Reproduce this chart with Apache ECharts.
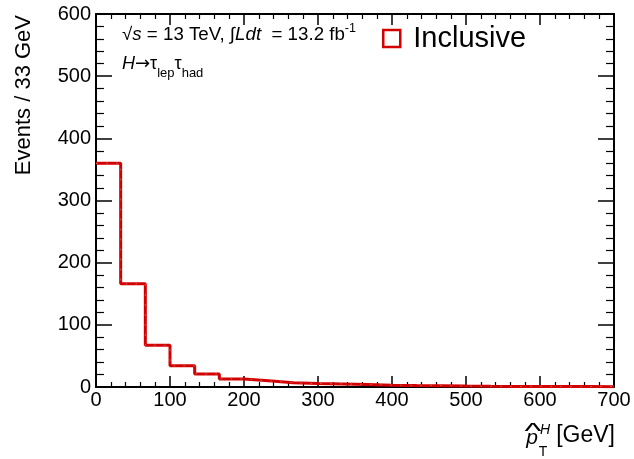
<!DOCTYPE html>
<html><head><meta charset="utf-8">
<script src="https://cdn.jsdelivr.net/npm/echarts@6/dist/echarts.min.js"></script>
<style>html,body{margin:0;padding:0;background:#fff}#c{width:634px;height:459px}</style>
</head><body><div id="c"></div>
<script>
// ---- data ----
const binLow = 0;
const binHigh = 700;
const counts = [360, 166, 67, 34, 21, 13, 10, 7, 5.5, 5, 4, 3, 2.5, 2.2, 1.5, 1.2, 1, 1, 0.8, 0.7, 0.6];
const xTickValues = [0, 100, 200, 300, 400, 500, 600, 700];
const yTickValues = [0, 100, 200, 300, 400, 500, 600];
const seriesName = 'Inclusive';

const nBins = counts.length;
const bw = (binHigh - binLow) / nBins;
const stepData = counts.map((v, i) => [binLow + i * bw, v]);
stepData.push([binHigh, counts[nBins - 1]]);

const FF = '"Liberation Sans", Arial, Helvetica, sans-serif';
const RED = '#d40000';

function xAx(pos, showLabel) {
  return {
    type: 'value', position: pos, min: xTickValues[0], max: xTickValues[xTickValues.length - 1],
    interval: xTickValues[1] - xTickValues[0],
    axisLine: { show: true, onZero: false, lineStyle: { color: '#000', width: 2 } },
    axisTick: { show: true, inside: true, length: 11, lineStyle: { color: '#000', width: 1.5 } },
    minorTick: { show: true, splitNumber: 5, length: 5, lineStyle: { color: '#000', width: 1.2 } },
    splitLine: { show: false },
    axisLabel: { show: showLabel, fontSize: 20, fontFamily: FF, color: '#000', margin: 3 }
  };
}
function yAx(pos, showLabel) {
  return {
    type: 'value', position: pos, min: yTickValues[0], max: yTickValues[yTickValues.length - 1],
    interval: yTickValues[1] - yTickValues[0],
    axisLine: { show: true, onZero: false, lineStyle: { color: '#000', width: 2 } },
    axisTick: { show: true, inside: true, length: 16, lineStyle: { color: '#000', width: 1.5 } },
    minorTick: { show: true, splitNumber: 5, length: 8, lineStyle: { color: '#000', width: 1.2 } },
    splitLine: { show: false },
    axisLabel: { show: showLabel, fontSize: 20, fontFamily: FF, color: '#000', margin: 5 }
  };
}

const chart = echarts.init(document.getElementById('c'), null, { renderer: 'canvas' });
chart.setOption({
  animation: false,
  backgroundColor: '#fff',
  grid: { left: 96, right: 20, top: 14, bottom: 72 },
  xAxis: [xAx('bottom', true), xAx('top', false)],
  yAxis: [yAx('left', true), yAx('right', false)],
  legend: {
    data: [seriesName], left: 382, top: 24, padding: 0,
    icon: 'rect', itemWidth: 17, itemHeight: 17,
    itemStyle: { color: 'rgba(255,255,255,0)', borderColor: RED, borderWidth: 2.5 },
    textStyle: { fontSize: 29, fontFamily: FF, color: '#000', padding: [0, 0, 10, 8] }
  },
  series: [
    {
      name: seriesName, type: 'line', step: 'end', data: stepData,
      xAxisIndex: 0, yAxisIndex: 0, symbol: 'none', z: 3,
      lineStyle: { color: RED, width: 3 }, itemStyle: { color: RED }
    },
    {
      name: 'band', type: 'line', step: 'end', data: stepData,
      xAxisIndex: 0, yAxisIndex: 0, symbol: 'none', z: 4, silent: true,
      lineStyle: { color: '#999', width: 1, type: [2, 8], opacity: 0.6 }
    }
  ],
  graphic: [
    { type: 'text', x: 24, y: 15, rotation: Math.PI / 2,
      style: { text: 'Events / 33 GeV', fontSize: 22, fontFamily: FF, fill: '#000',
        textAlign: 'right', textVerticalAlign: 'middle' } },
    { type: 'text', x: 122, y: 35, scaleX: 1.04,
      style: { text: '√{i|s} = 13 TeV, ∫{i|Ldt}  = 13.2 fb{sup|-1}', fontSize: 18, fontFamily: FF, fill: '#000',
        textAlign: 'left', textVerticalAlign: 'middle',
        rich: {
          i: { fontSize: 18, fontFamily: FF, fontStyle: 'italic', lineHeight: 24, verticalAlign: 'middle' },
          sup: { fontSize: 12, fontFamily: FF, lineHeight: 24, verticalAlign: 'top' }
        } } },
    { type: 'text', x: 122, y: 64,
      style: { text: '{i|H}{a|→}{t|τ}{sub|lep}{t|τ}{sub|had}', fontSize: 18, fontFamily: FF, fill: '#000',
        textAlign: 'left', textVerticalAlign: 'middle',
        rich: {
          i: { fontSize: 18, fontFamily: FF, fontStyle: 'italic', lineHeight: 32, verticalAlign: 'middle' },
          a: { fontSize: 18, fontFamily: '"DejaVu Sans", sans-serif', lineHeight: 32, verticalAlign: 'middle' },
          t: { fontSize: 18, fontFamily: FF, lineHeight: 32, verticalAlign: 'middle' },
          sub: { fontSize: 13, fontFamily: FF, lineHeight: 32, verticalAlign: 'bottom' }
        } } },
    { type: 'text', x: 615, y: 436,
      style: { text: '[GeV]', fontSize: 23, fontFamily: FF, fill: '#000', textAlign: 'right', textVerticalAlign: 'middle' } },
    { type: 'text', x: 532, y: 438,
      style: { text: 'p', fontSize: 21, fontFamily: FF, fontStyle: 'italic', fill: '#000', textAlign: 'center', textVerticalAlign: 'middle' } },
    { type: 'text', x: 533, y: 432, scaleX: 1.5, scaleY: 0.9,
      style: { text: '^', fontSize: 24, fontFamily: FF, fill: '#000', textAlign: 'center', textVerticalAlign: 'middle' } },
    { type: 'text', x: 545, y: 430,
      style: { text: 'H', fontSize: 14, fontFamily: FF, fontStyle: 'italic', fill: '#000', textAlign: 'center', textVerticalAlign: 'middle' } },
    { type: 'text', x: 543, y: 452,
      style: { text: 'T', fontSize: 14, fontFamily: FF, fill: '#000', textAlign: 'center', textVerticalAlign: 'middle' } }
  ]
});
</script>
</body></html>
